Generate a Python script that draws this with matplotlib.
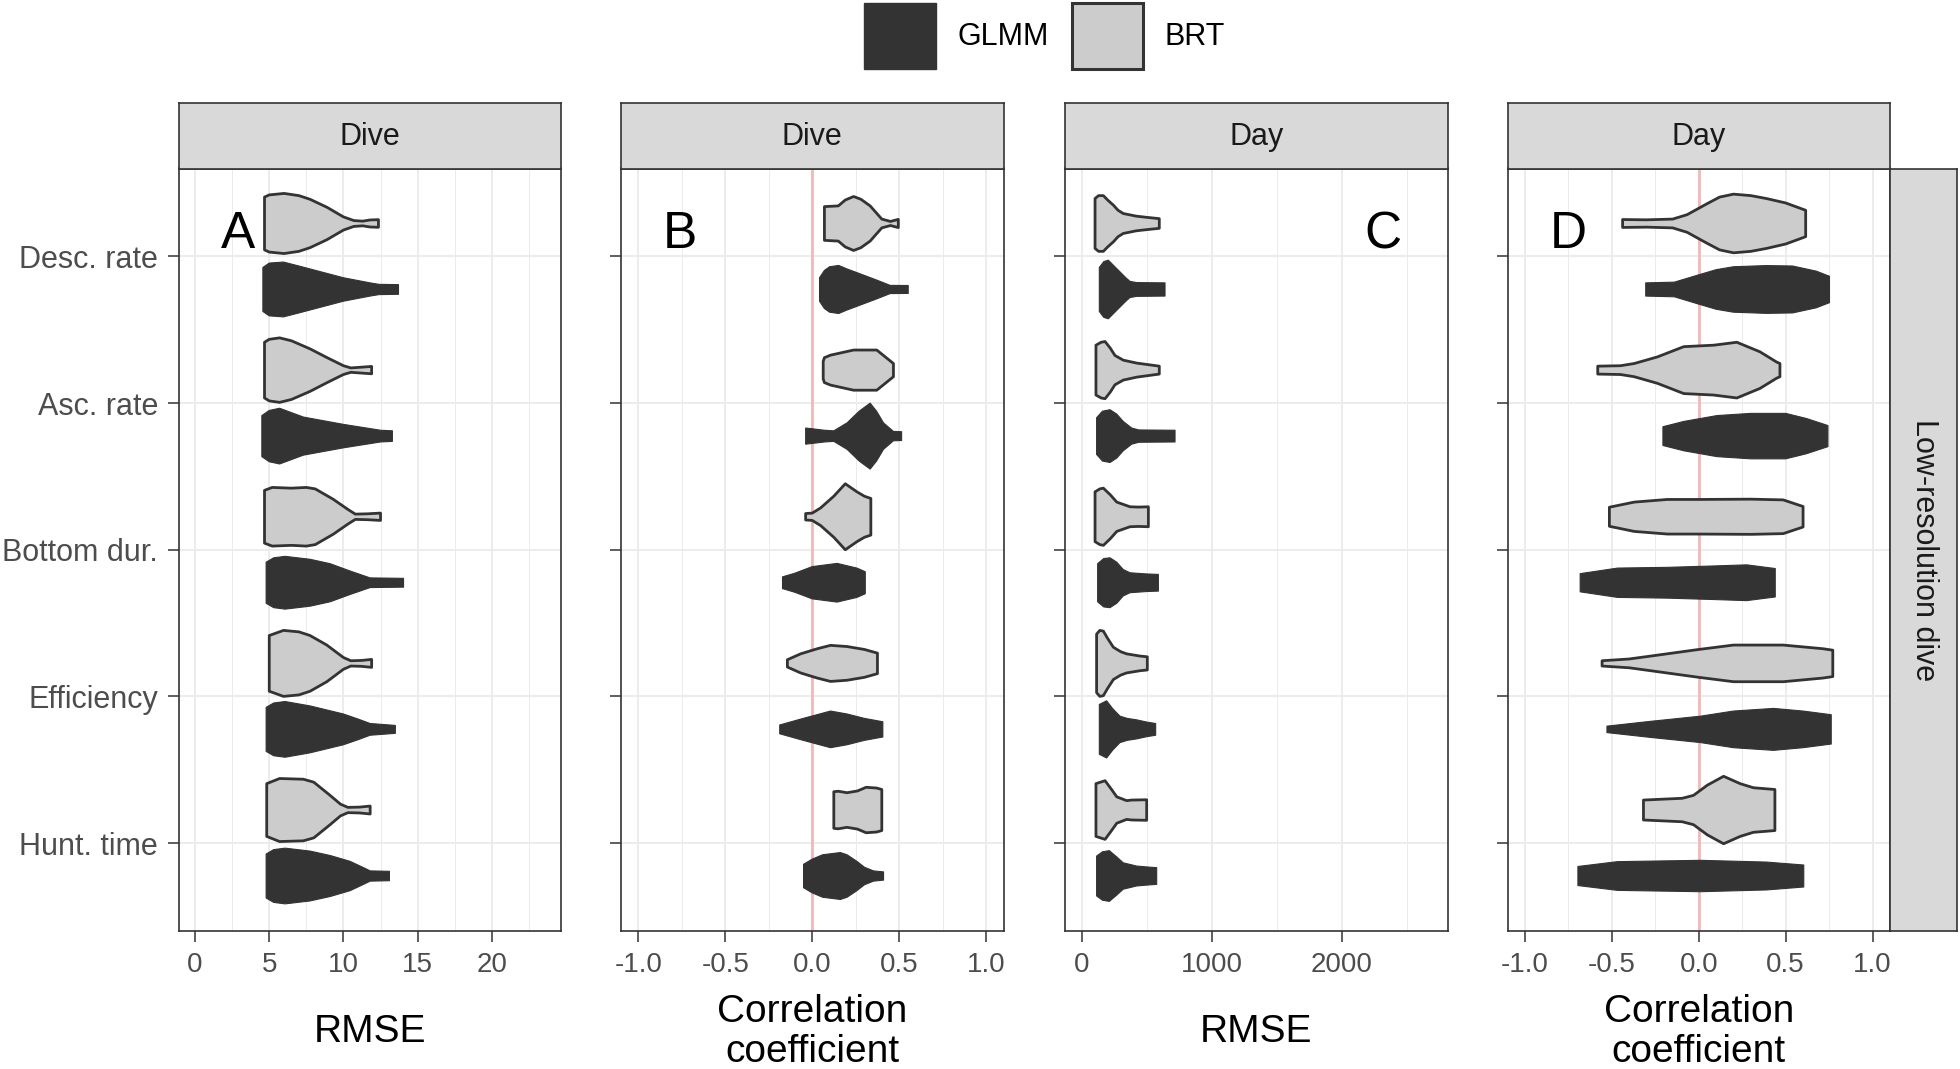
import numpy as np
import matplotlib
matplotlib.use("Agg")
import matplotlib.pyplot as plt
from matplotlib.patches import Patch
from matplotlib.ticker import FixedLocator

plt.rcParams['font.family'] = ['Liberation Sans', 'DejaVu Sans']
plt.rcParams['axes.unicode_minus'] = False

# ---------------- data ----------------
categories = ['Desc. rate', 'Asc. rate', 'Bottom dur.', 'Efficiency', 'Hunt. time']
models = ['GLMM', 'BRT']
panel_letters = ['A', 'B', 'C', 'D']
strip_labels = ['Dive', 'Dive', 'Day', 'Day']
x_titles = ['RMSE', 'Correlation\ncoefficient', 'RMSE', 'Correlation\ncoefficient']
row_strip = 'Low-resolution dive'

x_ticks_rmse_dive = [0, 5, 10, 15, 20]
x_ticks_corr = [-1.0, -0.5, 0.0, 0.5, 1.0]
x_ticks_rmse_day = [0, 1000, 2000]

# violin outlines: (value, half-width in category units)
A_BRT = [
    [(4.68, 0.18), (5.0, 0.195), (6.0, 0.205), (7.0, 0.19), (7.75, 0.165), (8.9, 0.11), (10.0, 0.045), (10.7, 0.02), (11.3, 0.016), (11.8, 0.024), (12.36, 0.026)],
    [(4.68, 0.19), (5.0, 0.21), (5.7, 0.22), (6.5, 0.2), (7.75, 0.145), (8.9, 0.085), (10.0, 0.03), (10.5, 0.015), (11.2, 0.02), (11.9, 0.025)],
    [(4.68, 0.18), (5.2, 0.2), (6.5, 0.195), (7.5, 0.2), (8.1, 0.19), (9.3, 0.12), (10.3, 0.05), (10.8, 0.018), (11.6, 0.02), (12.5, 0.025)],
    [(5.0, 0.19), (5.96, 0.225), (7.0, 0.215), (7.75, 0.19), (8.88, 0.125), (10.0, 0.04), (10.5, 0.018), (11.2, 0.02), (11.9, 0.027)],
    [(4.83, 0.18), (5.7, 0.215), (7.3, 0.21), (8.0, 0.19), (9.1, 0.1), (9.8, 0.04), (10.3, 0.018), (11.1, 0.02), (11.8, 0.027)],
]
A_GLMM = [
    [(4.57, 0.15), (5.0, 0.18), (5.96, 0.187), (7.0, 0.16), (7.75, 0.14), (10.0, 0.08), (11.8, 0.045), (12.4, 0.035), (13.71, 0.033)],
    [(4.5, 0.14), (5.0, 0.175), (5.7, 0.19), (6.5, 0.16), (7.3, 0.13), (10.0, 0.08), (12.0, 0.048), (12.5, 0.04), (13.3, 0.036)],
    [(4.79, 0.14), (5.3, 0.17), (6.07, 0.18), (7.75, 0.16), (9.1, 0.13), (10.45, 0.08), (11.8, 0.033), (14.05, 0.03)],
    [(4.79, 0.15), (5.3, 0.18), (6.07, 0.19), (7.75, 0.16), (10.0, 0.105), (11.0, 0.07), (11.8, 0.04), (13.5, 0.027)],
    [(4.79, 0.15), (5.3, 0.18), (6.07, 0.19), (7.75, 0.17), (9.1, 0.14), (10.45, 0.1), (11.5, 0.05), (11.8, 0.035), (13.1, 0.032)],
]
B_BRT = [
    [(0.07, 0.115), (0.15, 0.12), (0.19, 0.16), (0.238, 0.184), (0.28, 0.165), (0.333, 0.12), (0.4, 0.03), (0.45, 0.014), (0.495, 0.028)],
    [(0.063, 0.06), (0.07, 0.085), (0.105, 0.102), (0.238, 0.137), (0.371, 0.137), (0.467, 0.045)],
    [(-0.038, 0.022), (0.0, 0.025), (0.048, 0.06), (0.124, 0.14), (0.19, 0.225), (0.257, 0.17), (0.3, 0.14), (0.337, 0.125)],
    [(-0.143, 0.025), (-0.067, 0.065), (0.029, 0.1), (0.105, 0.123), (0.2, 0.115), (0.3, 0.095), (0.375, 0.07)],
    [(0.124, 0.125), (0.15, 0.128), (0.2, 0.118), (0.26, 0.13), (0.31, 0.155), (0.37, 0.15), (0.4, 0.14)],
]
B_GLMM = [
    [(0.042, 0.08), (0.07, 0.13), (0.1, 0.155), (0.152, 0.164), (0.2, 0.14), (0.257, 0.115), (0.371, 0.064), (0.448, 0.028), (0.552, 0.027)],
    [(-0.038, 0.055), (0.0, 0.05), (0.07, 0.04), (0.124, 0.036), (0.2, 0.09), (0.27, 0.17), (0.333, 0.225), (0.37, 0.17), (0.41, 0.09), (0.467, 0.032), (0.514, 0.03)],
    [(-0.171, 0.04), (-0.1, 0.065), (0.0, 0.11), (0.143, 0.132), (0.257, 0.1), (0.305, 0.075)],
    [(-0.187, 0.03), (-0.067, 0.07), (0.105, 0.125), (0.2, 0.105), (0.3, 0.075), (0.406, 0.052)],
    [(-0.05, 0.08), (0.0, 0.115), (0.06, 0.145), (0.162, 0.16), (0.2, 0.145), (0.257, 0.1), (0.3, 0.06), (0.352, 0.035), (0.41, 0.028)],
]
C_BRT = [
    [(103, 0.17), (130, 0.19), (167, 0.19), (200, 0.16), (244, 0.125), (280, 0.09), (320, 0.068), (420, 0.05), (500, 0.042), (597, 0.033)],
    [(110, 0.17), (150, 0.19), (180, 0.195), (220, 0.15), (256, 0.1), (320, 0.068), (423, 0.048), (597, 0.027)],
    [(103, 0.17), (140, 0.19), (167, 0.195), (220, 0.15), (270, 0.1), (372, 0.068), (436, 0.066), (513, 0.068)],
    [(115, 0.2), (140, 0.225), (167, 0.22), (200, 0.17), (244, 0.11), (300, 0.08), (346, 0.065), (449, 0.05), (505, 0.045)],
    [(110, 0.18), (180, 0.2), (230, 0.14), (270, 0.09), (346, 0.064), (385, 0.068), (500, 0.07)],
]
C_GLMM = [
    [(136, 0.15), (170, 0.19), (205, 0.2), (250, 0.16), (295, 0.12), (340, 0.08), (372, 0.055), (423, 0.047), (641, 0.045)],
    [(115, 0.125), (160, 0.17), (218, 0.18), (270, 0.15), (320, 0.1), (385, 0.055), (440, 0.042), (718, 0.04)],
    [(123, 0.13), (170, 0.165), (218, 0.17), (270, 0.14), (320, 0.09), (372, 0.068), (500, 0.06), (590, 0.057)],
    [(136, 0.17), (192, 0.195), (240, 0.14), (295, 0.09), (350, 0.075), (423, 0.065), (500, 0.05), (569, 0.04)],
    [(115, 0.136), (160, 0.165), (213, 0.173), (270, 0.13), (320, 0.09), (423, 0.068), (500, 0.062), (577, 0.057)],
]
D_BRT = [
    [(-0.438, 0.027), (-0.3, 0.025), (-0.15, 0.03), (-0.067, 0.06), (0.048, 0.135), (0.12, 0.18), (0.2, 0.2), (0.3, 0.19), (0.39, 0.17), (0.5, 0.14), (0.615, 0.09)],
    [(-0.581, 0.027), (-0.45, 0.03), (-0.371, 0.045), (-0.238, 0.09), (-0.086, 0.16), (0.086, 0.17), (0.219, 0.19), (0.352, 0.125), (0.448, 0.055), (0.467, 0.045)],
    [(-0.514, 0.065), (-0.371, 0.1), (-0.18, 0.118), (0.0, 0.118), (0.3, 0.12), (0.486, 0.115), (0.6, 0.07)],
    [(-0.556, 0.018), (-0.4, 0.03), (-0.276, 0.05), (0.0, 0.095), (0.2, 0.125), (0.486, 0.125), (0.714, 0.1), (0.771, 0.09)],
    [(-0.318, 0.068), (-0.095, 0.08), (-0.03, 0.1), (0.05, 0.17), (0.143, 0.23), (0.238, 0.18), (0.314, 0.152), (0.438, 0.14)],
]
D_GLMM = [
    [(-0.305, 0.045), (-0.14, 0.05), (0.0, 0.1), (0.1, 0.135), (0.2, 0.155), (0.39, 0.163), (0.54, 0.16), (0.676, 0.125), (0.752, 0.09)],
    [(-0.206, 0.064), (-0.086, 0.1), (0.105, 0.14), (0.3, 0.155), (0.5, 0.155), (0.62, 0.12), (0.743, 0.072)],
    [(-0.682, 0.062), (-0.467, 0.1), (-0.18, 0.105), (0.1, 0.115), (0.276, 0.122), (0.44, 0.097)],
    [(-0.528, 0.022), (-0.276, 0.055), (0.01, 0.09), (0.2, 0.125), (0.43, 0.143), (0.6, 0.125), (0.762, 0.1)],
    [(-0.695, 0.065), (-0.467, 0.098), (0.01, 0.107), (0.39, 0.095), (0.604, 0.075)],
]

panels_brt = [A_BRT, B_BRT, C_BRT, D_BRT]
panels_glmm = [A_GLMM, B_GLMM, C_GLMM, D_GLMM]
x_ticks = [x_ticks_rmse_dive, x_ticks_corr, x_ticks_rmse_day, x_ticks_corr]

# ---------------- styling ----------------
COL_GLMM = '#333333'
COL_BRT = '#CCCCCC'
EDGE = '#333333'
GRID = '#EBEBEB'
STRIP = '#D9D9D9'
TICKTXT = '#4D4D4D'

xlims = [(-1.1, 24.68), (-1.1, 1.1), (-128, 2813), (-1.1, 1.1)]
minor_ticks = [[2.5, 7.5, 12.5, 17.5, 22.5], [-0.75, -0.25, 0.25, 0.75],
               [500, 1500, 2500], [-0.75, -0.25, 0.25, 0.75]]
tick_fmt = [lambda v: f"{v:g}", lambda v: f"{v:.1f}", lambda v: f"{v:g}", lambda v: f"{v:.1f}"]
lefts = [178.75, 621.0, 1065.0, 1507.5]
letter_pos = [(0.154, 0.913), (0.154, 0.913), (0.83, 0.913), (0.16, 0.913)]
zero_line = [False, True, False, True]

W, H = 1960, 1069
fig = plt.figure(figsize=(W / 100, H / 100), dpi=100)

ax_w = 382.5 / W
ax_b = (H - 931) / H
ax_h = 762.5 / H
strip_top = 102.7
strip_b = (H - 168.5) / H
strip_h = (168.5 - strip_top) / H

yc = np.arange(1, len(categories) + 1)
dodge = 0.225


def draw_violin(ax, prof, center, face, edge, lw):
    xs = np.array([p[0] for p in prof])
    hw = np.array([p[1] for p in prof])
    px = np.concatenate([xs, xs[::-1]])
    py = np.concatenate([center - hw, (center + hw)[::-1]])
    ax.fill(px, py, facecolor=face, edgecolor=edge, linewidth=lw, joinstyle='round', zorder=3)


for k in range(4):
    ax = fig.add_axes([lefts[k] / W, ax_b, ax_w, ax_h])
    ax.set_xlim(*xlims[k])
    ax.set_ylim(5.6, 0.4)
    ax.set_xticks(x_ticks[k])
    ax.set_xticklabels([tick_fmt[k](v) for v in x_ticks[k]])
    ax.xaxis.set_minor_locator(FixedLocator(minor_ticks[k]))
    ax.set_yticks(yc)
    if k == 0:
        ax.set_yticklabels(categories)
    else:
        ax.set_yticklabels([])
    ax.grid(True, which='major', color=GRID, linewidth=1.3, zorder=0)
    ax.grid(True, which='minor', axis='x', color=GRID, linewidth=0.7, zorder=0)
    ax.set_axisbelow(True)
    ax.tick_params(axis='both', which='major', direction='out', length=8, width=1.1,
                   color=EDGE, labelcolor=TICKTXT, pad=7)
    ax.tick_params(axis='x', which='major', labelsize=20)
    ax.tick_params(axis='y', which='major', labelsize=22)
    ax.tick_params(axis='x', which='minor', length=0)
    for s in ax.spines.values():
        s.set_color(EDGE)
        s.set_linewidth(1.2)
    if zero_line[k]:
        ax.axvline(0, color='#F2B8B8', linewidth=2.0, zorder=1)
    for i in range(len(categories)):
        draw_violin(ax, panels_brt[k][i], yc[i] - dodge, COL_BRT, EDGE, 2.0)
        draw_violin(ax, panels_glmm[k][i], yc[i] + dodge, COL_GLMM, COL_GLMM, 0.8)
    ax.text(letter_pos[k][0], letter_pos[k][1], panel_letters[k], transform=ax.transAxes,
            fontsize=37, color='black', ha='center', va='center', zorder=5)
    ax.set_xlabel(x_titles[k], fontsize=28, color='black', linespacing=1.15, va='center')
    ax.xaxis.set_label_coords(0.5, -0.1325)

    # top strip
    sax = fig.add_axes([lefts[k] / W, strip_b, ax_w, strip_h])
    sax.set_facecolor(STRIP)
    sax.set_xticks([])
    sax.set_yticks([])
    for s in sax.spines.values():
        s.set_color(EDGE)
        s.set_linewidth(1.2)
    sax.text(0.5, 0.48, strip_labels[k], transform=sax.transAxes, ha='center', va='center',
             fontsize=22, color='#1A1A1A')

# right strip
rax = fig.add_axes([1890 / W, ax_b, 67 / W, ax_h])
rax.set_facecolor(STRIP)
rax.set_xticks([])
rax.set_yticks([])
for s in rax.spines.values():
    s.set_color(EDGE)
    s.set_linewidth(1.2)
rax.text(0.5, 0.5, row_strip, transform=rax.transAxes, ha='center', va='center',
         rotation=-90, fontsize=22, color='#1A1A1A')

# legend
handles = [Patch(facecolor=COL_GLMM, edgecolor=COL_GLMM, linewidth=1.0),
           Patch(facecolor=COL_BRT, edgecolor=EDGE, linewidth=2.2)]
fig.legend(handles, models, loc='center', bbox_to_anchor=(0.533, 0.966), ncol=2,
           frameon=False, fontsize=22, handlelength=2.35, handleheight=2.95,
           handletextpad=0.7, columnspacing=0.75, borderpad=0, borderaxespad=0)

fig.savefig('out.png', dpi=100)
